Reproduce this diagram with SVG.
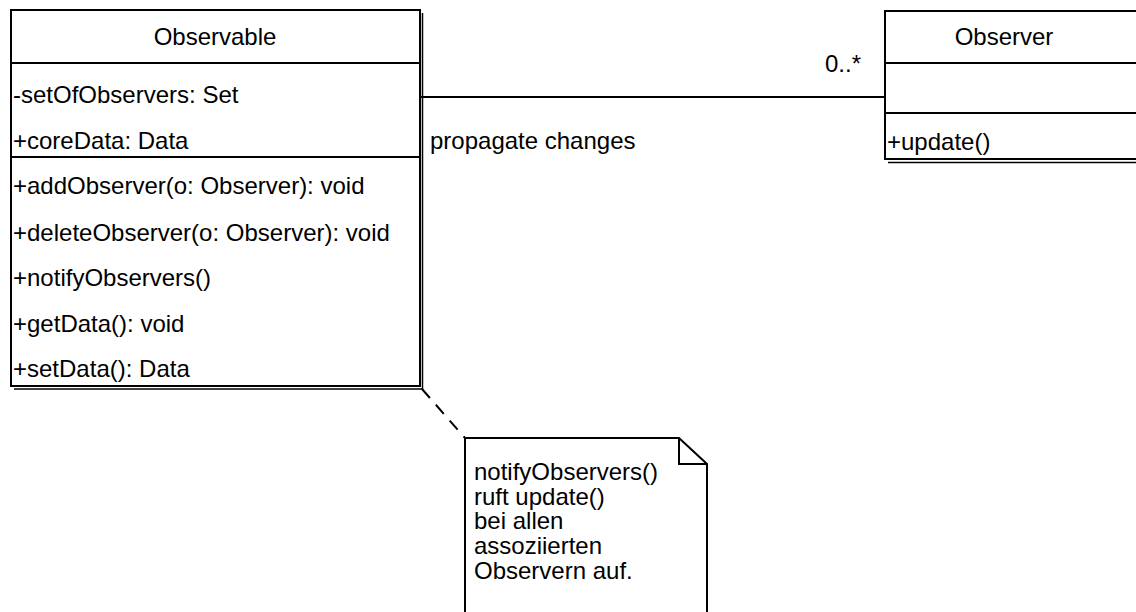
<svg xmlns="http://www.w3.org/2000/svg" width="1136" height="612" viewBox="0 0 1136 612">
  <style>
    .box { fill: #ffffff; stroke: #000000; stroke-width: 2; }
    .line { fill: none; stroke: #000000; stroke-width: 2; }
    .shadow { fill: none; stroke: #000000; stroke-width: 1.5; }
    .dash { fill: none; stroke: #000000; stroke-width: 2; stroke-dasharray: 12 9; }
    text { font-family: "Liberation Sans", Arial, sans-serif; font-size: 24px; fill: #000000; }
    .mid { text-anchor: middle; }
  </style>

  <!-- class Observable -->
  <g id="observable">
    <polyline class="shadow" points="422.5,13 422.5,389 14,389"/>
    <rect class="box" x="11" y="10" width="409" height="376"/>
    <line class="line" x1="11" y1="63" x2="420" y2="63"/>
    <line class="line" x1="11" y1="157" x2="420" y2="157"/>
    <text class="mid" x="215" y="45">Observable</text>
    <text x="13" y="103">-setOfObservers: Set</text>
    <text x="13" y="149">+coreData: Data</text>
    <text x="13" y="194">+addObserver(o: Observer): void</text>
    <text x="13" y="241">+deleteObserver(o: Observer): void</text>
    <text x="13" y="286">+notifyObservers()</text>
    <text x="13" y="332">+getData(): void</text>
    <text x="13" y="377">+setData(): Data</text>
  </g>

  <!-- class Observer -->
  <g id="observer">
    <line class="shadow" x1="888" y1="162.5" x2="1136" y2="162.5"/>
    <rect class="box" x="885" y="11" width="270" height="148"/>
    <line class="line" x1="885" y1="63" x2="1136" y2="63"/>
    <line class="line" x1="885" y1="113" x2="1136" y2="113"/>
    <text class="mid" x="1004" y="45">Observer</text>
    <text x="887" y="150">+update()</text>
  </g>

  <!-- comment note -->
  <g id="note">
    <path class="box" d="M465,438 H679 L707,464 V620 H465 Z"/>
    <path class="line" d="M679,438 V464 H707"/>
    <text x="474" y="480">notifyObservers()</text>
    <text x="474" y="505">ruft update()</text>
    <text x="474" y="529">bei allen</text>
    <text x="474" y="554">assoziierten</text>
    <text x="474" y="579">Observern auf.</text>
  </g>

  <!-- connectors -->
  <g id="connectors">
    <line class="line" x1="421" y1="97" x2="885" y2="97"/>
    <text x="825" y="72">0..*</text>
    <text x="430" y="149">propagate changes</text>
    <line class="dash" x1="422" y1="389" x2="465" y2="438"/>
  </g>
</svg>
